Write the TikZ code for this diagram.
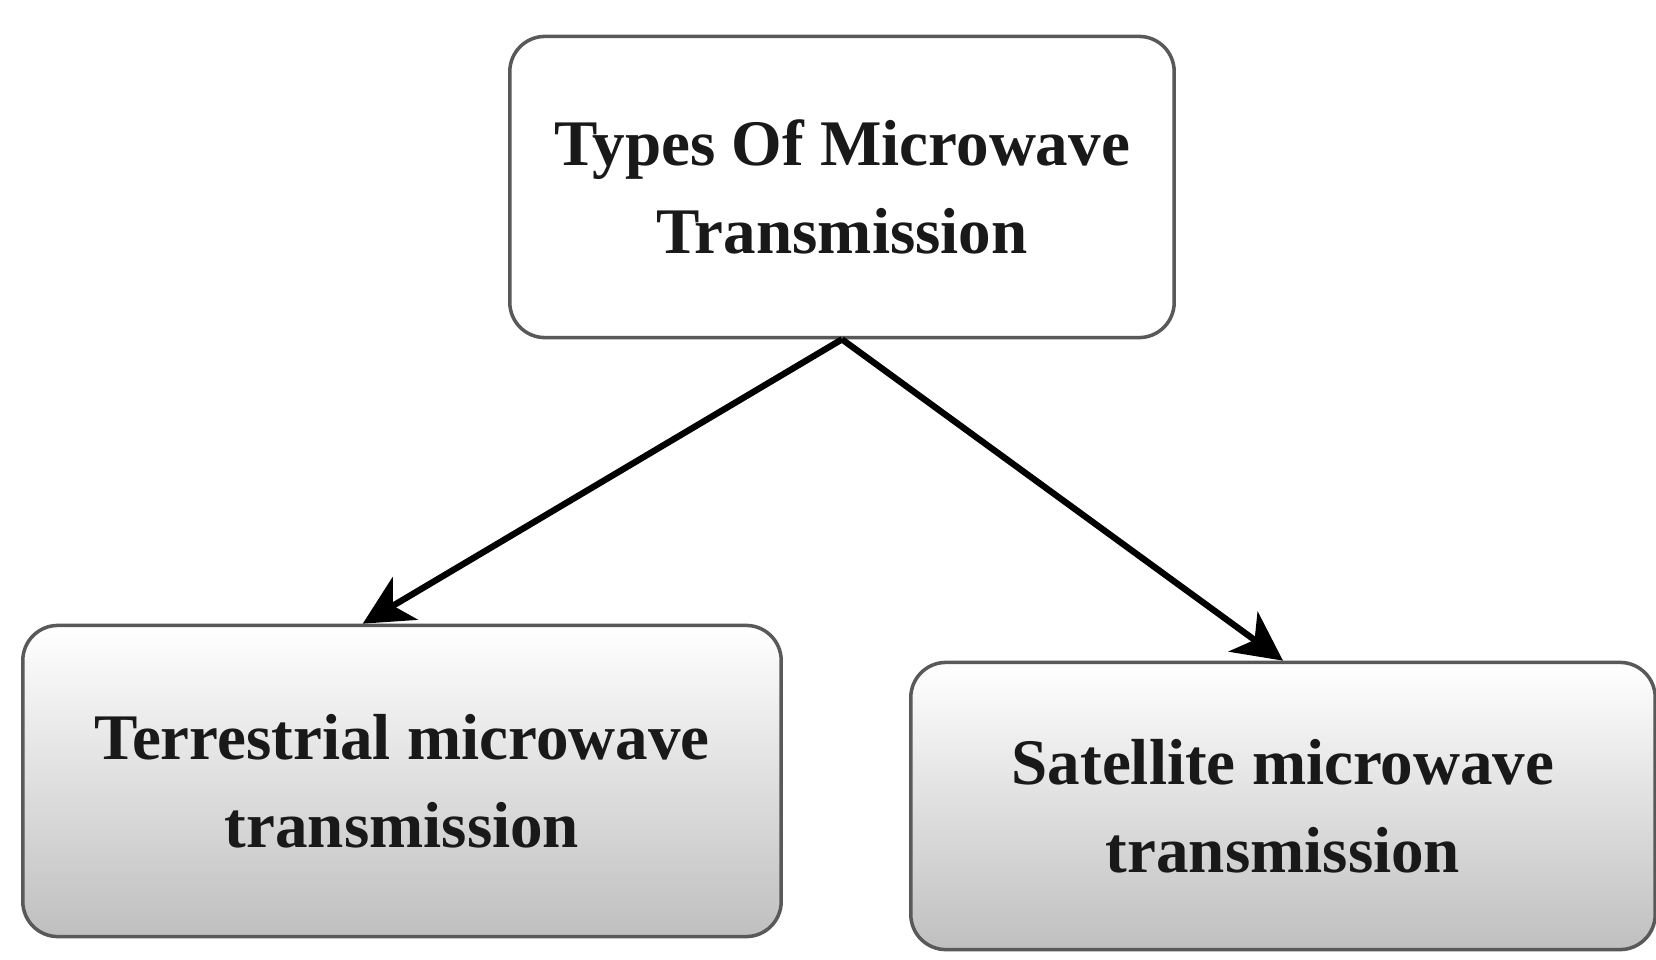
\documentclass[tikz,border=0pt]{standalone}
\usepackage{xcolor}
\usepackage{fontspec}
\setmainfont{Liberation Serif}
\usepackage{tikz}
\usetikzlibrary{arrows.meta}

\begin{document}
\begin{tikzpicture}[x=0.01cm,y=-0.01cm,
  box/.style={draw=gray!70!black,line width=1pt,rounded corners=10pt,align=center,
    font=\bfseries\fontsize{18.5}{25}\selectfont,text=black!90},
  typebox/.style={box,fill=white},
  kindbox/.style={box,top color=white,middle color=white!97!gray,bottom color=gray!50},
  link/.style={-{Stealth[length=14pt,width=14pt,inset=4pt]},line width=1.8pt}]
\useasboundingbox (0,0) rectangle (1656,960);
%Boxes
\node (types) at (842,187) [typebox][minimum width=6.64cm,minimum height=3.01cm] {Types Of Microwave\\Transmission};
\node (terr) at (402,781) [kindbox][minimum width=7.58cm,minimum height=3.11cm] {Terrestrial microwave\\transmission};
\node (sat) at (1283,806) [kindbox][minimum width=7.44cm,minimum height=2.87cm] {Satellite microwave\\transmission};
%Arrows
\draw [link] (types.south) -- (terr.104) ;
\draw [link] (types.south) -- (sat.north) ;
\end{tikzpicture}
\end{document}
